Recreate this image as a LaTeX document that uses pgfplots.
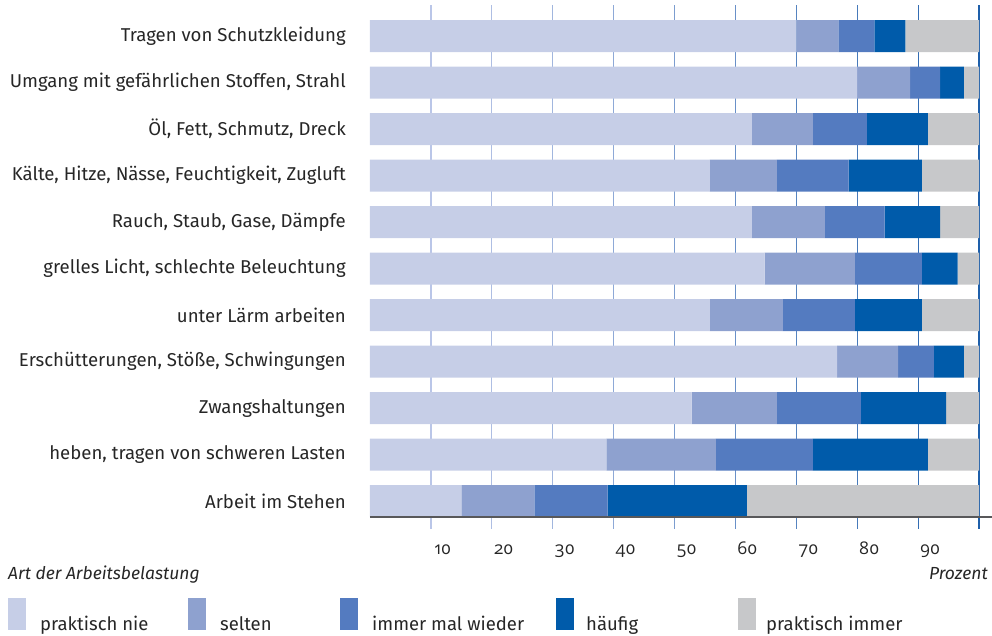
\documentclass[border=0pt]{standalone}
\usepackage{fontspec}
\setmainfont{Fira Sans}
\newfontfamily\numfont{Open Sans}[Numbers=OldStyle]
\usepackage{pgfplots}
\pgfplotsset{compat=1.18}
\definecolor{cA}{HTML}{C6CEE7}
\definecolor{cB}{HTML}{8EA1CF}
\definecolor{cC}{HTML}{547BC0}
\definecolor{cD}{HTML}{005BAA}
\definecolor{cE}{HTML}{C7C8CA}
\definecolor{gL}{HTML}{BAC6E8}
\definecolor{gD}{HTML}{1E5FAA}
\definecolor{axc}{HTML}{58585A}
\begin{document}
\fontsize{17.5}{20}\selectfont
\begin{tikzpicture}[x=1pt,y=1pt]
\useasboundingbox (-370,-119) rectangle (622,517);
% grid lines and tick marks (behind the bars)
\foreach \v/\p in {10/0,20/8,30/16,40/28,50/40,60/52,70/64,80/74,90/86,100/100}{
  \draw[color=gD!\p!gL, line width=1.2pt] (\v*6.09,-12) -- (\v*6.09,512);
}
\begin{axis}[
  at={(0pt,0pt)}, anchor=south west,
  scale only axis, width=622pt, height=512pt,
  xmin=0, xmax=102.13, ymin=0.333, ymax=11.344,
  y dir=reverse,
  xbar stacked, bar width=32pt,
  axis line style={draw=none},
  xtick=\empty,
  ytick={1,...,11},
  yticklabels={Tragen von Schutzkleidung,
    {Umgang mit gefährlichen Stoffen, Strahl},
    {Öl, Fett, Schmutz, Dreck},
    {Kälte, Hitze, Nässe, Feuchtigkeit, Zugluft},
    {Rauch, Staub, Gase, Dämpfe},
    {grelles Licht, schlechte Beleuchtung},
    unter Lärm arbeiten,
    {Erschütterungen, Stöße, Schwingungen},
    Zwangshaltungen,
    {heben, tragen von schweren Lasten},
    Arbeit im Stehen},
  yticklabel style={anchor=east, inner sep=0pt, xshift=-24pt, text=black!85, font=\fontsize{18.6}{21}\selectfont},
  major tick length=0pt,
  clip=false,
  every axis plot/.append style={draw=none},
]
\addplot[fill=cA] coordinates {(70,1) (80,2) (62.7,3) (55.8,4) (62.7,5) (64.8,6) (55.8,7) (76.7,8) (52.8,9) (38.8,10) (15,11)};
\addplot[fill=cB] coordinates {(6.9,1) (8.7,2) (10,3) (11,4) (12,5) (14.8,6) (12,7) (10,8) (14,9) (18,10) (12,11)};
\addplot[fill=cC] coordinates {(5.9,1) (4.9,2) (8.9,3) (11.8,4) (9.8,5) (11,6) (11.8,7) (5.9,8) (13.8,9) (15.9,10) (12,11)};
\addplot[fill=cD] coordinates {(5.1,1) (3.9,2) (10,3) (12,4) (9.1,5) (5.9,6) (11,7) (4.9,8) (14,9) (18.9,10) (22.9,11)};
\addplot[fill=cE] coordinates {(12.1,1) (2.5,2) (8.4,3) (9.4,4) (6.4,5) (3.5,6) (9.4,7) (2.5,8) (5.4,9) (8.4,10) (38.1,11)};
\end{axis}
% axis line
\draw[color=axc, line width=1.6pt] (0,0) -- (622,0);
% x tick labels
\foreach \v in {10,20,...,90}{
  \node[anchor=base, inner sep=0pt, text=black!85, font=\numfont\fontsize{17.5}{20}\selectfont] at (\v*6.09+12,-38) {\v};
}
\node[anchor=base west, inner sep=0pt, text=black!85] at (-362,-63) {\itshape Art der Arbeitsbelastung};
\node[anchor=base east, inner sep=0pt, text=black!85] at (618,-63) {\itshape Prozent};
% legend
\foreach \sx/\tx/\c/\t in {-362/-330/cA/praktisch nie, -182/-150/cB/selten, -30/2/cC/immer mal wieder, 186/216/cD/häufig, 368/396/cE/praktisch immer}{
  \fill[\c] (\sx,-81) rectangle (\sx+18,-113);
  \node[anchor=base west, inner sep=0pt, text=black!85, font=\fontsize{18.5}{21}\selectfont] at (\tx,-114) {\t};
}
\end{tikzpicture}
\end{document}
